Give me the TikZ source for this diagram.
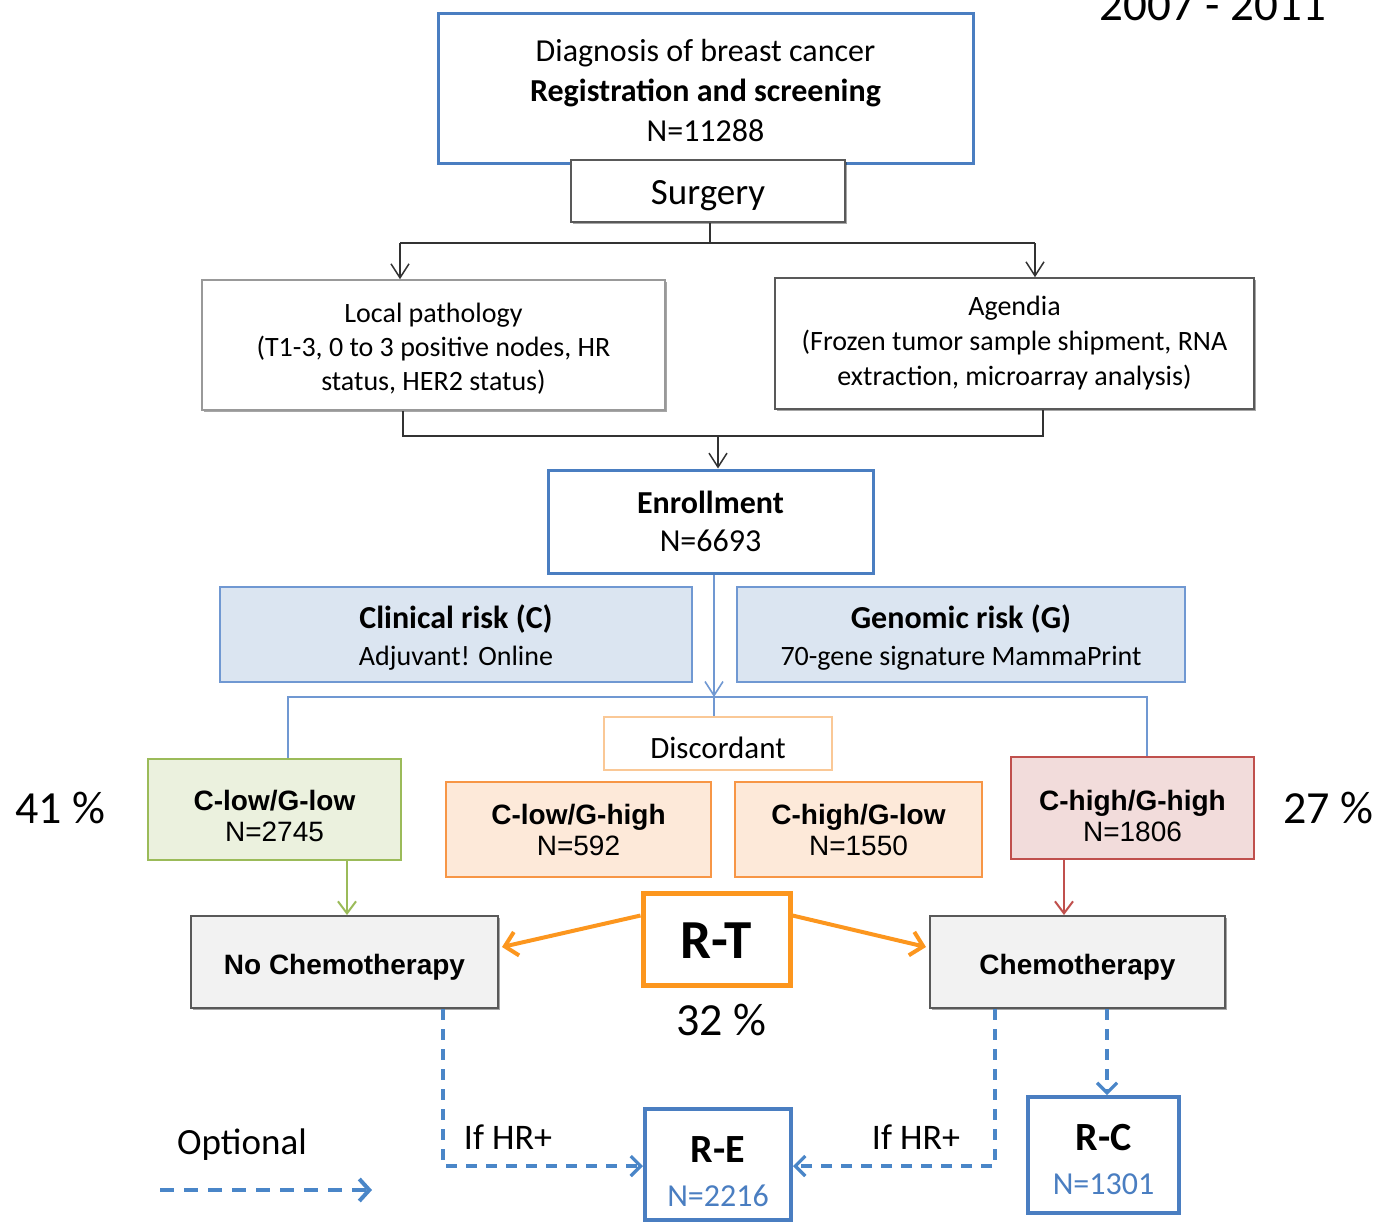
\documentclass[tikz,border=0pt]{standalone}
\usepackage{fontspec}
\setmainfont{Carlito}
\newfontfamily\arialf{Liberation Sans}
\usetikzlibrary{arrows.meta,calc,shadows}
\definecolor{bluebd}{RGB}{74,126,193}
\definecolor{lbfill}{RGB}{219,229,241}
\definecolor{lbbd}{RGB}{112,152,210}
\definecolor{orbd}{RGB}{247,150,70}
\definecolor{orfill}{RGB}{253,233,217}
\definecolor{discbd}{RGB}{250,200,150}
\definecolor{grbd}{RGB}{155,187,89}
\definecolor{grfill}{RGB}{235,241,222}
\definecolor{rdbd}{RGB}{192,80,77}
\definecolor{rdfill}{RGB}{242,220,219}
\definecolor{gyfill}{RGB}{242,242,242}
\definecolor{gybd}{RGB}{89,89,89}
\definecolor{rtor}{RGB}{252,150,30}
\definecolor{dashbl}{RGB}{74,134,200}
\definecolor{lineblk}{RGB}{50,50,50}
\newcommand\dn[3]{\raisebox{-#1}[\height][\depth]{\parbox{#2}{\centering #3}}}
\tikzset{
  box/.style={rectangle, inner sep=0pt, align=center, text=black},
  shad/.style={drop shadow={shadow xshift=0.8pt, shadow yshift=-0.8pt, opacity=0.35, fill=black}},
  thinline/.style={draw=lineblk, line width=0.75pt},
  thinarr/.style={thinline, -{Straight Barb[length=7pt,width=9pt]}},
  bluethin/.style={draw=lbbd, line width=0.8pt},
  dashln/.style={draw=dashbl, line width=1.6pt, dash pattern=on 5.5pt off 4.5pt, -{Straight Barb[length=5pt,width=10pt,line width=1.6pt]}},
  pct/.style={font=\fontsize{23}{26}\selectfont, inner sep=0pt},
  cg/.style={box, font=\arialf\fontsize{14}{15.5}\selectfont},
}
\begin{document}
\begin{tikzpicture}[x=0.5pt,y=-0.5pt]
\useasboundingbox (0,0) rectangle (1382,1222);
\clip (0,0) rectangle (1382,1222);

% top
\node[box, draw=bluebd, line width=1.5pt, minimum width=267.5pt, minimum height=75pt,
  font=\fontsize{16}{20}\selectfont] (diag) at (705.5,88)
  {\dn{1.25pt}{260pt}{Diagnosis of breast cancer\\\textbf{Registration and screening}\\N=11288}};
\node[box, shad, fill=white, draw=gybd, line width=0.9pt, minimum width=137pt, minimum height=31pt,
  font=\fontsize{18.5}{22}\selectfont] (surg) at (708,191) {\dn{2.5pt}{130pt}{Surgery}};

\node[box, shad, fill=white, draw=black!40, line width=0.8pt, minimum width=231.5pt, minimum height=65pt,
  font=\fontsize{14}{17}\selectfont] (loc) at (433.5,345)
  {\dn{2pt}{225pt}{Local pathology\\(T1-3, 0 to 3 positive nodes, HR\\status, HER2 status)}};
\node[box, shad, fill=white, draw=gybd, line width=0.8pt, minimum width=239.5pt, minimum height=65.5pt,
  font=\fontsize{14}{17.5}\selectfont] (agen) at (1014.5,343.5)
  {Agendia\\(Frozen tumor sample shipment, RNA\\extraction, microarray analysis)};

\coordinate (jl) at (400,243);
\coordinate (jr) at (1035,243);
\coordinate (js) at (710,243);
\draw[thinline] (surg.south -| js) -- (js);
\draw[thinline] (jl) -- (jr);
\draw[thinarr] (jl) -- (jl |- loc.north);
\draw[thinarr] (jr) -- (jr |- agen.north);

\node[box, draw=bluebd, line width=1.5pt, minimum width=162.5pt, minimum height=51.5pt,
  font=\fontsize{16}{19}\selectfont] (enr) at (710.5,521.5)
  {\textbf{Enrollment}\\N=6693};

\coordinate (bl) at (403,436);
\coordinate (br) at (1043,436);
\coordinate (bm) at (718,436);
\draw[thinline] (bl |- loc.south) -- (bl) -- (br) -- (br |- agen.south);
\draw[thinarr] (bm) -- (bm |- enr.north);

% risk boxes
\node[box, fill=lbfill, draw=lbbd, line width=1pt, minimum width=236pt, minimum height=47.5pt,
  font=\fontsize{16}{18.5}\selectfont] (clin) at (456,634.5)
  {\dn{1.5pt}{230pt}{\textbf{Clinical risk (C)}\\{\fontsize{14}{18.5}\selectfont Adjuvant! Online}}};
\node[box, fill=lbfill, draw=lbbd, line width=1pt, minimum width=224pt, minimum height=47.5pt,
  font=\fontsize{16}{18.5}\selectfont] (gen) at (961,634.5)
  {\dn{1.5pt}{220pt}{\textbf{Genomic risk (G)}\\{\fontsize{14}{18.5}\selectfont 70-gene signature MammaPrint}}};

\node[box, fill=white, draw=discbd, line width=0.9pt, minimum width=114pt, minimum height=26.5pt,
  font=\fontsize{15.5}{18}\selectfont] (disc) at (718,743.5) {\dn{2pt}{110pt}{Discordant}};

\node[cg, fill=grfill, draw=grbd, line width=1.1pt, minimum width=126.5pt, minimum height=50.5pt] (cll) at (274.5,809.5)
  {\dn{3pt}{120pt}{\textbf{C-low/G-low}\\N=2745}};
\node[cg, fill=orfill, draw=orbd, line width=1.1pt, minimum width=132.5pt, minimum height=47.5pt] (clh) at (578.5,829.5)
  {\textbf{C-low/G-high}\\N=592};
\node[cg, fill=orfill, draw=orbd, line width=1.1pt, minimum width=123.5pt, minimum height=47.5pt] (chl) at (858.5,829.5)
  {\textbf{C-high/G-low}\\N=1550};
\node[cg, fill=rdfill, draw=rdbd, line width=1.1pt, minimum width=121.5pt, minimum height=51pt] (chh) at (1132.5,808)
  {\dn{4pt}{120pt}{\textbf{C-high/G-high}\\N=1806}};

\coordinate (hb) at (714,697);
\coordinate (hl) at (288,697);
\coordinate (hr) at (1147,697);
\draw[bluethin, -{Straight Barb[length=7pt,width=9pt]}] (enr.south -| hb) -- (hb);
\draw[bluethin] (hb) -- (hb |- disc.north);
\draw[bluethin] (hl |- cll.north) -- (hl) -- (hr) -- (hr |- chh.north);

\node[pct] (p41) at (60,808) {41 \%};
\node[pct] (p27) at (1328,808) {27 \%};

% treatment
\node[cg, shad, fill=gyfill, draw=gybd, line width=1pt, minimum width=153.5pt, minimum height=46pt] (noch) at (344.5,962)
  {\dn{2.5pt}{150pt}{\textbf{No Chemotherapy}}};
\node[cg, shad, fill=gyfill, draw=gybd, line width=1pt, minimum width=147.5pt, minimum height=46pt] (ch) at (1077.5,962)
  {\dn{2.5pt}{145pt}{\textbf{Chemotherapy}}};
\node[box, fill=white, draw=rtor, line width=2.5pt, minimum width=73.5pt, minimum height=46pt,
  font=\bfseries\fontsize{27.5}{30}\selectfont] (rt) at (716.5,939) {\dn{1pt}{70pt}{R-T}};

\coordinate (ga) at (347,0);
\coordinate (ra) at (1064,0);
\draw[draw=grbd, line width=1pt, -{Straight Barb[length=6pt,width=9pt]}] (cll.south -| ga) -- (noch.north -| ga);
\draw[draw=rdbd, line width=1pt, -{Straight Barb[length=6pt,width=9pt]}] (chh.south -| ra) -- (ch.north -| ra);

\draw[draw=rtor, line width=2pt, -{Straight Barb[length=6pt,width=12pt,line width=2pt]}]
  ($(rt.north west)+(0,25)$) -- ($(noch.north east)+(3,32)$);
\draw[draw=rtor, line width=2pt, -{Straight Barb[length=6pt,width=12pt,line width=2pt]}]
  ($(rt.north east)+(0,25)$) -- ($(ch.north west)+(-3,32)$);

\node[pct] (p32) at (721,1020) {32 \%};

% randomisation boxes
\node[box, fill=white, draw=bluebd, line width=2pt, minimum width=73pt, minimum height=55.5pt] (re) at (718,1164.5)
  {\dn{3.5pt}{70pt}{\fontsize{20}{22}\selectfont\bfseries R-E\\[0pt]{\fontsize{16}{22}\selectfont\mdseries\color{bluebd}N=2216}}};
\node[box, fill=white, draw=bluebd, line width=2pt, minimum width=75.5pt, minimum height=58pt] (rc) at (1103.5,1155)
  {\dn{2pt}{70pt}{\fontsize{20}{22}\selectfont\bfseries R-C\\[0pt]{\fontsize{16}{22}\selectfont\mdseries\color{bluebd}N=1301}}};

\coordinate (dl) at (443,1166);
\coordinate (dr) at (995,1166);
\coordinate (dc) at (1107,0);
\draw[dashln] (noch.south -| dl) -- (dl) -- (re.west |- dl);
\draw[dashln] (ch.south -| dr) -- (dr) -- (re.east |- dr);
\draw[dashln] (ch.south -| dc) -- (rc.north -| dc);

\node[font=\fontsize{18}{20}\selectfont, inner sep=0pt] (hr1) at (508,1137) {If HR+};
\node[font=\fontsize{18}{20}\selectfont, inner sep=0pt] (hr2) at (916,1137) {If HR+};

\node[font=\fontsize{18.5}{20}\selectfont, inner sep=0pt] (opt) at (242,1145) {Optional};
\coordinate (o1) at (160,1190);
\coordinate (o2) at (372,1190);
\draw[draw=dashbl, line width=2pt, dash pattern=on 7pt off 5pt, -{Straight Barb[length=5pt,width=11pt,line width=2pt]}] (o1) -- (o2);

\node[font=\fontsize{23.5}{26}\selectfont, inner sep=0pt, anchor=base] (yr) at (1213,20) {2007 - 2011};
\end{tikzpicture}
\end{document}
